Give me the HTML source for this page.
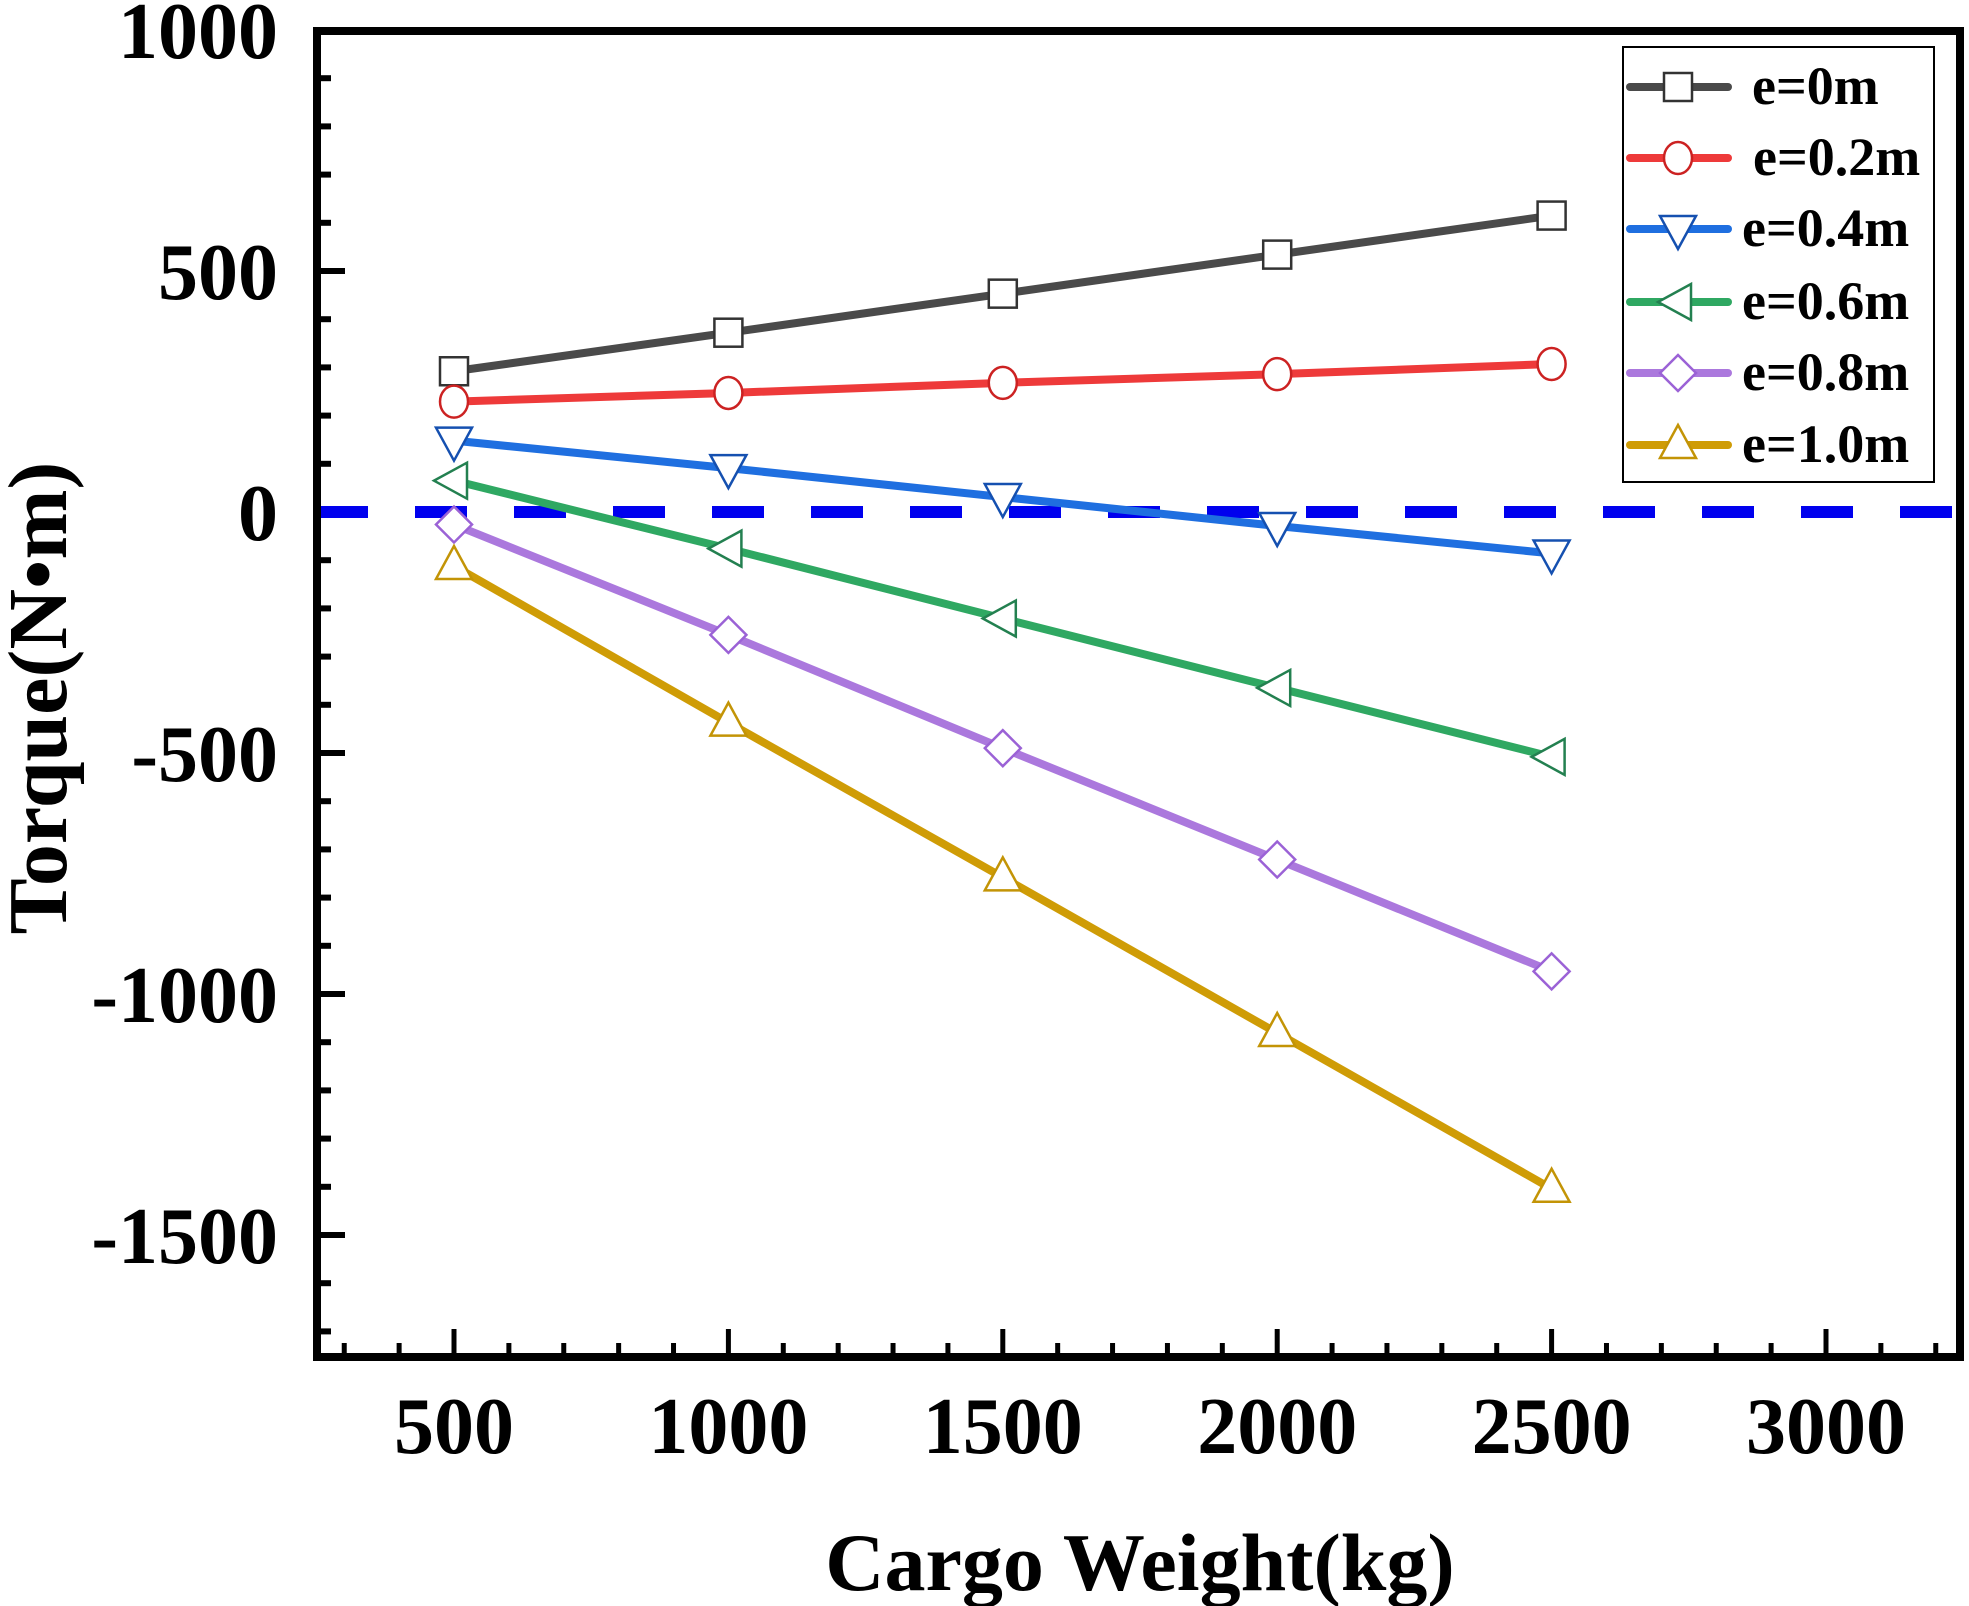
<!DOCTYPE html>
<html><head><meta charset="utf-8"><style>
html,body{margin:0;padding:0;background:#fff;}
svg{display:block;}
text{font-family:"Liberation Serif",serif;font-weight:bold;fill:#000;}
</style></head><body>
<svg id="chart" width="1969" height="1606" viewBox="0 0 1969 1606">
<g id="plot"></g>
</svg>
<script>
const categories = [500, 1000, 1500, 2000, 2500];
const seriesNames = ["e=0m","e=0.2m","e=0.4m","e=0.6m","e=0.8m","e=1.0m"];
const e0 = [292, 372, 453, 534, 615];
const e02 = [229, 247, 268, 286, 307];
const e04 = [148, 91, 31, -29, -86];
const e06 = [65, -76, -221, -365, -508];
const e08 = [-26, -255, -490, -721, -953];
const e10 = [-112, -437, -758, -1081, -1404];
const xTicks = [500, 1000, 1500, 2000, 2500, 3000];
const yTicks = [1000, 500, 0, -500, -1000, -1500];

const NS = "http://www.w3.org/2000/svg";
const svg = document.getElementById("plot");
const X0 = 317, X1 = 1960, Y0 = 31, Y1 = 1357;
function sx(v){ return 454 + (v - 500) * 274.4 / 500; }
function sy(v){ return 512 - v * 241 / 500; }
function mk(tag, attrs, parent){
  const el = document.createElementNS(NS, tag);
  for (const k in attrs) el.setAttribute(k, attrs[k]);
  (parent || svg).appendChild(el);
  return el;
}
for (let v = -1700; v <= 1000; v += 100) {
  const major = v % 500 === 0;
  const t = mk("line", {x1: X0, x2: X0 + (major ? 28 : 14), y1: sy(v), y2: sy(v), stroke: "#000", "stroke-width": 6});
  
  
}
for (let v = 300; v <= 3200; v += 100) {
  const major = v % 500 === 0;
  const t = mk("line", {x1: sx(v), x2: sx(v), y1: Y1, y2: Y1 - (major ? 28 : 14), stroke: "#000", "stroke-width": 5});
  
  
}
yTicks.forEach(v => {
  const t = mk("text", {x: 278, y: sy(v) + 28, "text-anchor": "end", "font-size": 80});
  t.textContent = v;
  
  
});
xTicks.forEach(v => {
  const t = mk("text", {x: sx(v), y: 1453, "text-anchor": "middle", "font-size": 80});
  t.textContent = v;
  
  
});
const zl = mk("line", {x1: 316, x2: X1, y1: sy(0), y2: sy(0), stroke: "#0000ee", "stroke-width": 12, "stroke-dasharray": "52 47"});



const colors = ["#4a4a4a","#ee3a3a","#1f6fe0","#2fa862","#ab78dd","#cf9c06"];
const mcolors = ["#333333","#cc2222","#1550b0","#238050","#9b62d6","#c39406"];
const shapes = ["square","circle","tdown","tleft","diamond","tup"];
const allSeries = [e0, e02, e04, e06, e08, e10];

function marker(shape, cx, cy, col, parent){
  const s = 14;
  let el;
  const st = {fill: "#fff", stroke: col, "stroke-width": 2.5};
  if (shape === "square") el = mk("rect", Object.assign({x: cx - s, y: cy - s, width: 2*s, height: 2*s}, st), parent);
  else if (shape === "circle") el = mk("ellipse", Object.assign({cx: cx, cy: cy, rx: 14, ry: 16}, st), parent);
  else {
    let pts;
    const r = 18;
    if (shape === "tdown") pts = [[cx - r, cy - 13], [cx + r, cy - 13], [cx, cy + 20]];
    if (shape === "tup") pts = [[cx - r, cy + 13], [cx + r, cy + 13], [cx, cy - 20]];
    if (shape === "tleft") pts = [[cx + 13, cy - r], [cx + 13, cy + r], [cx - 20, cy]];
    if (shape === "diamond") pts = [[cx, cy - 18], [cx + 18, cy], [cx, cy + 18], [cx - 18, cy]];
    el = mk("polygon", Object.assign({points: pts.map(p => p.join(",")).join(" ")}, st), parent);
  }
  return el;
}

allSeries.forEach((vals, i) => {
  const g = mk("g", {});
  
  
  const line = mk("polyline", {points: categories.map((c, j) => sx(c) + "," + sy(vals[j])).join(" "), fill: "none", stroke: colors[i], "stroke-width": 8, "stroke-linejoin": "round"}, g);
  
  
  categories.forEach((c, j) => {
    const m = marker(shapes[i], sx(c), sy(vals[j]), mcolors[i], g);
    
    
  });
});

const fr = mk("rect", {x: X0, y: Y0, width: X1 - X0, height: Y1 - Y0, fill: "none", stroke: "#000", "stroke-width": 8});



const lg = mk("g", {});


const lb = mk("rect", {x: 1623, y: 47, width: 311, height: 435, fill: "#fff", stroke: "#000", "stroke-width": 2}, lg);


const rowY = [87, 158, 229, 302, 373, 445];
const textX = [1752, 1753, 1742, 1742, 1742, 1742];
seriesNames.forEach((n, i) => {
  const e = mk("g", {}, lg);
  
  
  mk("line", {x1: 1630, x2: 1728, y1: rowY[i], y2: rowY[i], stroke: colors[i], "stroke-width": 8, "stroke-linecap": "round"}, e);
  marker(shapes[i], 1678, rowY[i], mcolors[i], e);
  const t = mk("text", {x: textX[i], y: rowY[i] + 17, "font-size": 54}, e);
  t.textContent = n;
});

const xl = mk("text", {x: 1140, y: 1590, "text-anchor": "middle", "font-size": 82});
xl.textContent = "Cargo Weight(kg)";


const yl = mk("text", {x: 0, y: 0, "text-anchor": "middle", "font-size": 84, transform: "translate(66,698) rotate(-90)"});
yl.textContent = "Torque(N•m)";


</script>
</body></html>
